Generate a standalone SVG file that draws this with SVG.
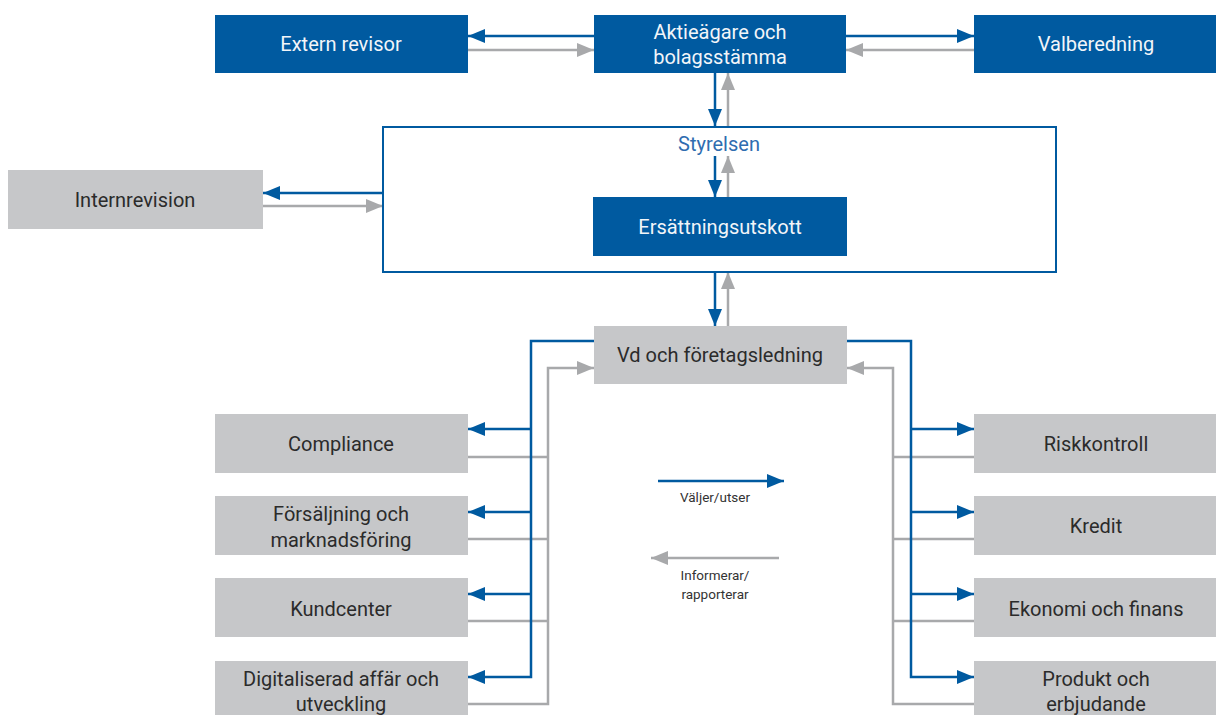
<svg xmlns="http://www.w3.org/2000/svg" width="1216" height="715" viewBox="0 0 1216 715">
<style>
.b{fill:#005aa0}
.g{fill:#c6c7c9}
.t{font-family:Roboto,"Liberation Sans",sans-serif;font-size:20px;text-anchor:middle}
.w{fill:#f2f5f9}
.d{fill:#2b2b2b}
.sl{fill:none;stroke:#005aa0;stroke-width:2.5}
.gl{fill:none;stroke:#a8a9ab;stroke-width:2.5}
.lg{font-family:Roboto,"Liberation Sans",sans-serif;font-size:13.5px;text-anchor:middle;fill:#333}
</style>
<defs>
<marker id="ab" markerUnits="userSpaceOnUse" markerWidth="18" markerHeight="16" refX="17" refY="7" orient="auto"><path d="M0,0 L17,7 L0,14 Z" fill="#005aa0"/></marker>
<marker id="ag" markerUnits="userSpaceOnUse" markerWidth="18" markerHeight="16" refX="17" refY="7" orient="auto"><path d="M0,0 L17,7 L0,14 Z" fill="#a8a9ab"/></marker>
</defs>
<g id="connectors">
<path class="sl" d="M594,36 H468" marker-end="url(#ab)"/>
<path class="gl" d="M468,50 H594" marker-end="url(#ag)"/>
<path class="sl" d="M846,36 H974" marker-end="url(#ab)"/>
<path class="gl" d="M974,50 H846" marker-end="url(#ag)"/>
<path class="sl" d="M715,73 V126" marker-end="url(#ab)"/>
<path class="gl" d="M728,126 V73" marker-end="url(#ag)"/>
<path class="sl" d="M383,193 H263" marker-end="url(#ab)"/>
<path class="gl" d="M263,206 H383" marker-end="url(#ag)"/>
<path class="sl" d="M715,156 V197" marker-end="url(#ab)"/>
<path class="gl" d="M728,197 V156" marker-end="url(#ag)"/>
<path class="sl" d="M715,272 V326" marker-end="url(#ab)"/>
<path class="gl" d="M728,326 V272" marker-end="url(#ag)"/>
<path class="gl" d="M468,704 H548 V368 H594" marker-end="url(#ag)"/>
<path class="gl" d="M468,457 H548 M468,539 H548 M468,621 H548"/>
<path class="sl" d="M594,341 H531 V677 H468" marker-end="url(#ab)"/>
<path class="sl" d="M531,429 H468" marker-end="url(#ab)"/>
<path class="sl" d="M531,512 H468" marker-end="url(#ab)"/>
<path class="sl" d="M531,594 H468" marker-end="url(#ab)"/>
<path class="gl" d="M974,704 H893 V368 H847" marker-end="url(#ag)"/>
<path class="gl" d="M974,457 H893 M974,539 H893 M974,621 H893"/>
<path class="sl" d="M847,341 H911 V677 H974" marker-end="url(#ab)"/>
<path class="sl" d="M911,429 H974" marker-end="url(#ab)"/>
<path class="sl" d="M911,512 H974" marker-end="url(#ab)"/>
<path class="sl" d="M911,594 H974" marker-end="url(#ab)"/>
</g>
<g id="extern-revisor"><rect class="b" x="215" y="15" width="253" height="58"/><text class="t w" x="341" y="51">Extern revisor</text></g>
<g id="aktieagare"><rect class="b" x="594" y="15" width="252" height="58"/><text class="t w" x="720" y="39">Aktieägare och</text><text class="t w" x="720" y="64">bolagsstämma</text></g>
<g id="valberedning"><rect class="b" x="974" y="15" width="242" height="58"/><text class="t w" x="1096" y="51">Valberedning</text></g>
<g id="styrelsen"><rect x="383" y="127" width="673" height="145" fill="none" stroke="#005aa0" stroke-width="2"/><text class="t" x="719" y="151" fill="#2f6db0">Styrelsen</text></g>
<g id="ersattningsutskott"><rect class="b" x="593" y="197" width="254" height="59"/><text class="t w" x="720" y="234">Ersättningsutskott</text></g>
<g id="internrevision"><rect class="g" x="8" y="170" width="255" height="59"/><text class="t d" x="135" y="207">Internrevision</text></g>
<g id="vd"><rect class="g" x="594" y="326" width="253" height="58"/><text class="t d" x="720" y="362">Vd och företagsledning</text></g>
<g id="compliance"><rect class="g" x="215" y="414" width="253" height="59"/><text class="t d" x="341" y="451">Compliance</text></g>
<g id="forsaljning"><rect class="g" x="215" y="496" width="253" height="59"/><text class="t d" x="341" y="521">Försäljning och</text><text class="t d" x="341" y="547">marknadsföring</text></g>
<g id="kundcenter"><rect class="g" x="215" y="578" width="253" height="59"/><text class="t d" x="341" y="616">Kundcenter</text></g>
<g id="digitaliserad"><rect class="g" x="215" y="661" width="253" height="59"/><text class="t d" x="341" y="686">Digitaliserad affär och</text><text class="t d" x="341" y="711">utveckling</text></g>
<g id="riskkontroll"><rect class="g" x="974" y="414" width="242" height="59"/><text class="t d" x="1096" y="451">Riskkontroll</text></g>
<g id="kredit"><rect class="g" x="974" y="496" width="242" height="59"/><text class="t d" x="1096" y="533">Kredit</text></g>
<g id="ekonomi"><rect class="g" x="974" y="578" width="242" height="59"/><text class="t d" x="1096" y="616">Ekonomi och finans</text></g>
<g id="produkt"><rect class="g" x="974" y="661" width="242" height="59"/><text class="t d" x="1096" y="686">Produkt och</text><text class="t d" x="1096" y="711">erbjudande</text></g>
<g id="legend">
<path class="sl" d="M658,481 H784" marker-end="url(#ab)"/>
<text class="lg" x="715" y="502">Väljer/utser</text>
<path class="gl" d="M779,558 H651" marker-end="url(#ag)"/>
<text class="lg" x="715" y="580">Informerar/</text>
<text class="lg" x="715" y="599">rapporterar</text>
</g>
</svg>
